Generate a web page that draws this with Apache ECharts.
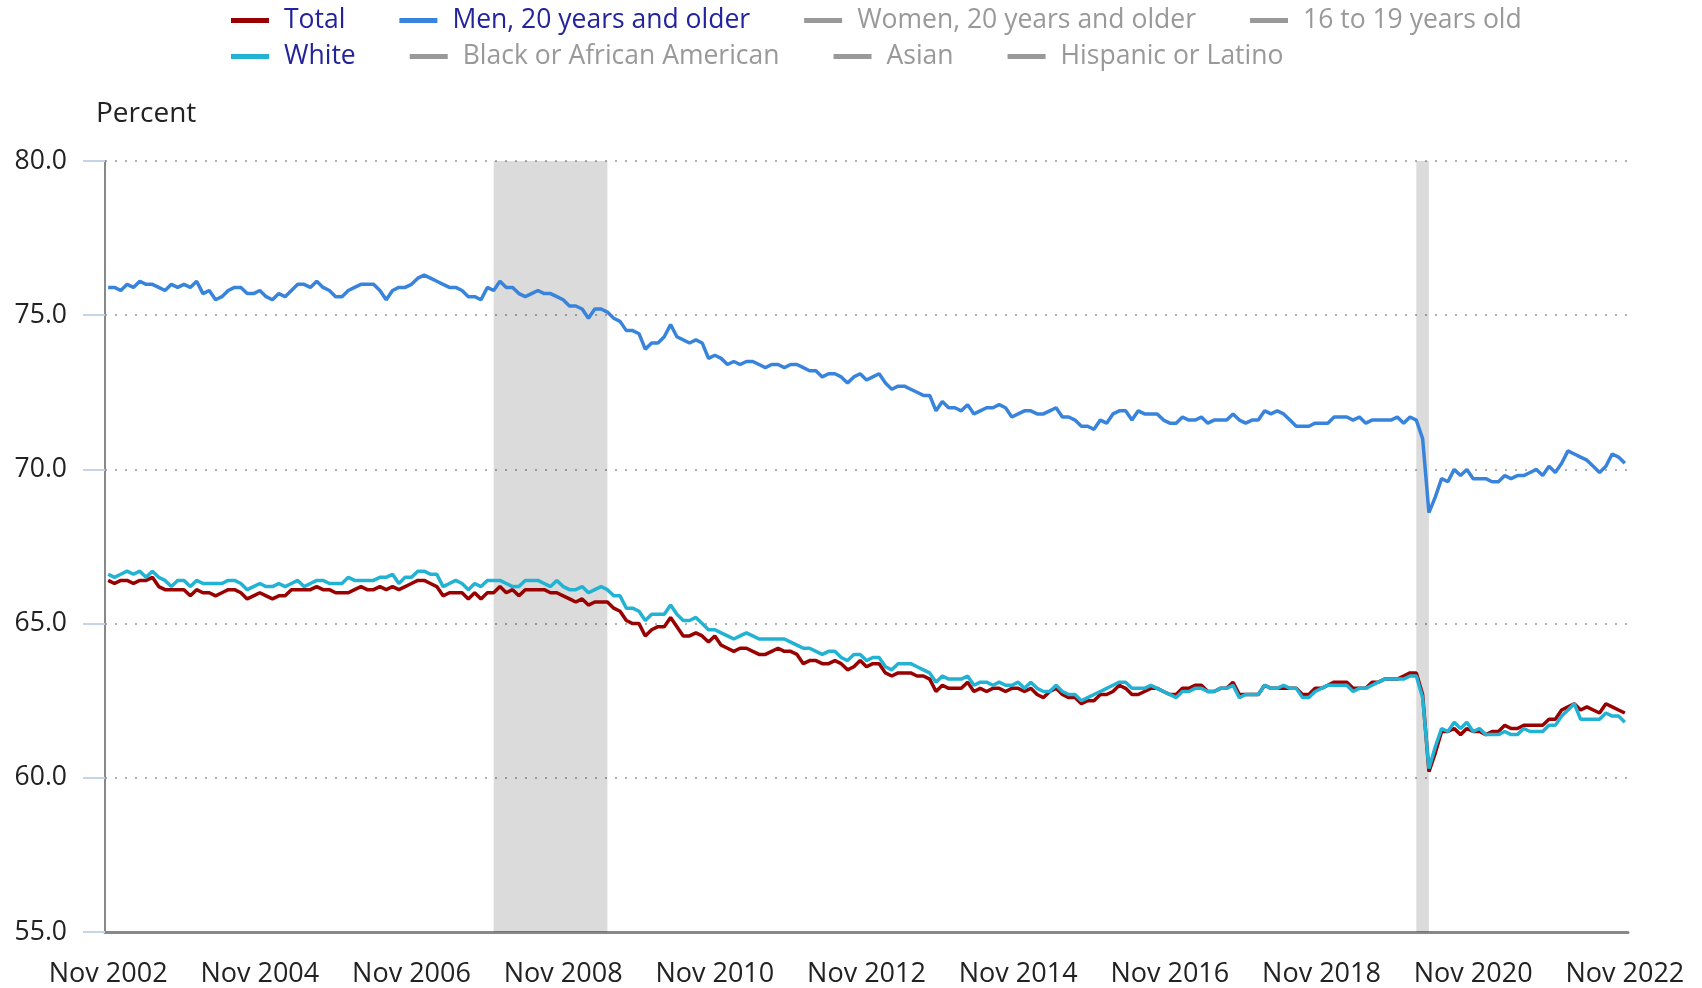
<!DOCTYPE html>
<html>
<head>
<meta charset="utf-8">
<title>Labor force participation rate</title>
<script src="https://cdn.jsdelivr.net/npm/echarts@6/dist/echarts.min.js"></script>
<style>
  html, body { margin: 0; padding: 0; background: #fff; }
  #chart { width: 1702px; height: 988px; }
</style>
</head>
<body>
<div id="chart"></div>
<script>
// monthly, Nov 2002 .. Nov 2022
const startYear = 2002;
const startMonth = 10; // Nov (0-based)
const monthNames = ["Jan", "Feb", "Mar", "Apr", "May", "Jun", "Jul", "Aug", "Sep", "Oct", "Nov", "Dec"];

const total = [
  66.4, 66.3, 66.4, 66.4, 66.3, 66.4, 66.4, 66.5, 66.2, 66.1, 66.1, 66.1,
  66.1, 65.9, 66.1, 66.0, 66.0, 65.9, 66.0, 66.1, 66.1, 66.0, 65.8, 65.9,
  66.0, 65.9, 65.8, 65.9, 65.9, 66.1, 66.1, 66.1, 66.1, 66.2, 66.1, 66.1,
  66.0, 66.0, 66.0, 66.1, 66.2, 66.1, 66.1, 66.2, 66.1, 66.2, 66.1, 66.2,
  66.3, 66.4, 66.4, 66.3, 66.2, 65.9, 66.0, 66.0, 66.0, 65.8, 66.0, 65.8,
  66.0, 66.0, 66.2, 66.0, 66.1, 65.9, 66.1, 66.1, 66.1, 66.1, 66.0, 66.0,
  65.9, 65.8, 65.7, 65.8, 65.6, 65.7, 65.7, 65.7, 65.5, 65.4, 65.1, 65.0,
  65.0, 64.6, 64.8, 64.9, 64.9, 65.2, 64.9, 64.6, 64.6, 64.7, 64.6, 64.4,
  64.6, 64.3, 64.2, 64.1, 64.2, 64.2, 64.1, 64.0, 64.0, 64.1, 64.2, 64.1,
  64.1, 64.0, 63.7, 63.8, 63.8, 63.7, 63.7, 63.8, 63.7, 63.5, 63.6, 63.8,
  63.6, 63.7, 63.7, 63.4, 63.3, 63.4, 63.4, 63.4, 63.3, 63.3, 63.2, 62.8,
  63.0, 62.9, 62.9, 62.9, 63.1, 62.8, 62.9, 62.8, 62.9, 62.9, 62.8, 62.9,
  62.9, 62.8, 62.9, 62.7, 62.6, 62.8, 62.9, 62.7, 62.6, 62.6, 62.4, 62.5,
  62.5, 62.7, 62.7, 62.8, 63.0, 62.9, 62.7, 62.7, 62.8, 62.9, 62.9, 62.8,
  62.7, 62.7, 62.9, 62.9, 63.0, 63.0, 62.8, 62.8, 62.9, 62.9, 63.1, 62.7,
  62.7, 62.7, 62.7, 63.0, 62.9, 62.9, 62.9, 62.9, 62.9, 62.7, 62.7, 62.9,
  62.9, 63.0, 63.1, 63.1, 63.1, 62.9, 62.9, 62.9, 63.1, 63.1, 63.2, 63.2,
  63.2, 63.3, 63.4, 63.4, 62.7, 60.2, 60.8, 61.5, 61.5, 61.6, 61.4, 61.6,
  61.5, 61.5, 61.4, 61.5, 61.5, 61.7, 61.6, 61.6, 61.7, 61.7, 61.7, 61.7,
  61.9, 61.9, 62.2, 62.3, 62.4, 62.2, 62.3, 62.2, 62.1, 62.4, 62.3, 62.2,
  62.1
];

const men20 = [
  75.9, 75.9, 75.8, 76.0, 75.9, 76.1, 76.0, 76.0, 75.9, 75.8, 76.0, 75.9,
  76.0, 75.9, 76.1, 75.7, 75.8, 75.5, 75.6, 75.8, 75.9, 75.9, 75.7, 75.7,
  75.8, 75.6, 75.5, 75.7, 75.6, 75.8, 76.0, 76.0, 75.9, 76.1, 75.9, 75.8,
  75.6, 75.6, 75.8, 75.9, 76.0, 76.0, 76.0, 75.8, 75.5, 75.8, 75.9, 75.9,
  76.0, 76.2, 76.3, 76.2, 76.1, 76.0, 75.9, 75.9, 75.8, 75.6, 75.6, 75.5,
  75.9, 75.8, 76.1, 75.9, 75.9, 75.7, 75.6, 75.7, 75.8, 75.7, 75.7, 75.6,
  75.5, 75.3, 75.3, 75.2, 74.9, 75.2, 75.2, 75.1, 74.9, 74.8, 74.5, 74.5,
  74.4, 73.9, 74.1, 74.1, 74.3, 74.7, 74.3, 74.2, 74.1, 74.2, 74.1, 73.6,
  73.7, 73.6, 73.4, 73.5, 73.4, 73.5, 73.5, 73.4, 73.3, 73.4, 73.4, 73.3,
  73.4, 73.4, 73.3, 73.2, 73.2, 73.0, 73.1, 73.1, 73.0, 72.8, 73.0, 73.1,
  72.9, 73.0, 73.1, 72.8, 72.6, 72.7, 72.7, 72.6, 72.5, 72.4, 72.4, 71.9,
  72.2, 72.0, 72.0, 71.9, 72.1, 71.8, 71.9, 72.0, 72.0, 72.1, 72.0, 71.7,
  71.8, 71.9, 71.9, 71.8, 71.8, 71.9, 72.0, 71.7, 71.7, 71.6, 71.4, 71.4,
  71.3, 71.6, 71.5, 71.8, 71.9, 71.9, 71.6, 71.9, 71.8, 71.8, 71.8, 71.6,
  71.5, 71.5, 71.7, 71.6, 71.6, 71.7, 71.5, 71.6, 71.6, 71.6, 71.8, 71.6,
  71.5, 71.6, 71.6, 71.9, 71.8, 71.9, 71.8, 71.6, 71.4, 71.4, 71.4, 71.5,
  71.5, 71.5, 71.7, 71.7, 71.7, 71.6, 71.7, 71.5, 71.6, 71.6, 71.6, 71.6,
  71.7, 71.5, 71.7, 71.6, 71.0, 68.6, 69.1, 69.7, 69.6, 70.0, 69.8, 70.0,
  69.7, 69.7, 69.7, 69.6, 69.6, 69.8, 69.7, 69.8, 69.8, 69.9, 70.0, 69.8,
  70.1, 69.9, 70.2, 70.6, 70.5, 70.4, 70.3, 70.1, 69.9, 70.1, 70.5, 70.4,
  70.2
];

const white = [
  66.6, 66.5, 66.6, 66.7, 66.6, 66.7, 66.5, 66.7, 66.5, 66.4, 66.2, 66.4,
  66.4, 66.2, 66.4, 66.3, 66.3, 66.3, 66.3, 66.4, 66.4, 66.3, 66.1, 66.2,
  66.3, 66.2, 66.2, 66.3, 66.2, 66.3, 66.4, 66.2, 66.3, 66.4, 66.4, 66.3,
  66.3, 66.3, 66.5, 66.4, 66.4, 66.4, 66.4, 66.5, 66.5, 66.6, 66.3, 66.5,
  66.5, 66.7, 66.7, 66.6, 66.6, 66.2, 66.3, 66.4, 66.3, 66.1, 66.3, 66.2,
  66.4, 66.4, 66.4, 66.3, 66.2, 66.2, 66.4, 66.4, 66.4, 66.3, 66.2, 66.4,
  66.2, 66.1, 66.1, 66.2, 66.0, 66.1, 66.2, 66.1, 65.9, 65.9, 65.5, 65.5,
  65.4, 65.1, 65.3, 65.3, 65.3, 65.6, 65.3, 65.1, 65.1, 65.2, 65.0, 64.8,
  64.8, 64.7, 64.6, 64.5, 64.6, 64.7, 64.6, 64.5, 64.5, 64.5, 64.5, 64.5,
  64.4, 64.3, 64.2, 64.2, 64.1, 64.0, 64.1, 64.1, 63.9, 63.8, 64.0, 64.0,
  63.8, 63.9, 63.9, 63.6, 63.5, 63.7, 63.7, 63.7, 63.6, 63.5, 63.4, 63.1,
  63.3, 63.2, 63.2, 63.2, 63.3, 63.0, 63.1, 63.1, 63.0, 63.1, 63.0, 63.0,
  63.1, 62.9, 63.1, 62.9, 62.8, 62.8, 63.0, 62.8, 62.7, 62.7, 62.5, 62.6,
  62.7, 62.8, 62.9, 63.0, 63.1, 63.1, 62.9, 62.9, 62.9, 63.0, 62.9, 62.8,
  62.7, 62.6, 62.8, 62.8, 62.9, 62.9, 62.8, 62.8, 62.9, 62.9, 63.0, 62.6,
  62.7, 62.7, 62.7, 63.0, 62.9, 62.9, 63.0, 62.9, 62.9, 62.6, 62.6, 62.8,
  62.9, 63.0, 63.0, 63.0, 63.0, 62.8, 62.9, 62.9, 63.0, 63.1, 63.2, 63.2,
  63.2, 63.2, 63.3, 63.3, 62.6, 60.3, 61.0, 61.6, 61.5, 61.8, 61.6, 61.8,
  61.5, 61.6, 61.4, 61.4, 61.4, 61.5, 61.4, 61.4, 61.6, 61.5, 61.5, 61.5,
  61.7, 61.7, 62.0, 62.2, 62.4, 61.9, 61.9, 61.9, 61.9, 62.1, 62.0, 62.0,
  61.8
];

// recessions (shaded)
const recessions = [
  ["Dec 2007", "Jun 2009"],
  ["Feb 2020", "Apr 2020"]
];

const legendRow1 = ["Total", "Men, 20 years and older", "Women, 20 years and older", "16 to 19 years old"];
const legendRow2 = ["White", "Black or African American", "Asian", "Hispanic or Latino"];
const hiddenSeries = ["Women, 20 years and older", "16 to 19 years old", "Black or African American", "Asian", "Hispanic or Latino"];

// category labels
const months = [];
for (let i = 0; i < total.length; i++) {
  const m = (startMonth + i) % 12;
  const y = startYear + Math.floor((startMonth + i) / 12);
  months.push(monthNames[m] + " " + y);
}

const fontFamily = "'Open Sans', 'Noto Sans', sans-serif";

const chart = echarts.init(document.getElementById("chart"), null, { renderer: "canvas" });

const selectedMap = {};
hiddenSeries.forEach(n => { selectedMap[n] = false; });

const legendBase = {
  orient: "horizontal",
  icon: "rect",
  padding: 0,
  itemWidth: 38,
  itemHeight: 5,
  itemGap: 54,
  inactiveColor: "#999999",
  inactiveBorderColor: "#999999",
  selected: selectedMap,
  textStyle: {
    color: "#23239b",
    fontSize: 26.5,
    fontFamily: fontFamily,
    padding: [0, 0, 0, 10]
  }
};

const seriesColors = {
  "Total": "#990000",
  "Men, 20 years and older": "#3884dc",
  "Women, 20 years and older": "#999999",
  "16 to 19 years old": "#999999",
  "White": "#22b3d4",
  "Black or African American": "#999999",
  "Asian": "#999999",
  "Hispanic or Latino": "#999999"
};

const seriesData = {
  "Total": total,
  "Men, 20 years and older": men20,
  "White": white
};

const series = legendRow1.concat(legendRow2).map(name => {
  const s = {
    name: name,
    type: "line",
    data: seriesData[name] || [],
    symbol: "none",
    showSymbol: false,
    color: seriesColors[name],
    lineStyle: { width: 3.5, color: seriesColors[name] },
    emphasis: { disabled: true },
    animation: false
  };
  if (name === "Total") {
    s.markArea = {
      silent: true,
      itemStyle: { color: "rgba(0,0,0,0.14)" },
      data: recessions.map(r => [{ xAxis: r[0] }, { xAxis: r[1] }])
    };
  }
  return s;
});

const option = {
  animation: false,
  backgroundColor: "#ffffff",
  title: {
    text: "Percent",
    left: 91,
    top: 95,
    textStyle: {
      fontFamily: fontFamily,
      fontSize: 28,
      fontWeight: "normal",
      color: "#222222"
    }
  },
  legend: [
    Object.assign({}, legendBase, { data: legendRow1, left: 231, top: 7 }),
    Object.assign({}, legendBase, { data: legendRow2, left: 231, top: 43 })
  ],
  grid: {
    left: 105,
    right: 74,
    top: 161,
    bottom: 53,
    containLabel: false
  },
  xAxis: {
    type: "category",
    data: months,
    boundaryGap: true,
    axisLine: { show: true, lineStyle: { color: "#888888", width: 3 } },
    axisTick: { show: false },
    splitLine: { show: false },
    axisLabel: {
      interval: 23,
      margin: 29,
      fontSize: 27,
      fontFamily: fontFamily,
      color: "#222222"
    }
  },
  yAxis: {
    type: "value",
    min: 55,
    max: 80,
    interval: 5,
    axisLine: { show: true, lineStyle: { color: "#888888", width: 2 } },
    axisTick: { show: true, length: 22, lineStyle: { color: "#c6d4ea", width: 2 } },
    splitLine: { show: true, lineStyle: { color: "#b0b0b0", width: 2, type: [2, 8] } },
    axisLabel: {
      margin: 38,
      fontSize: 26.5,
      fontFamily: fontFamily,
      color: "#222222",
      formatter: v => v.toFixed(1)
    }
  },
  series: series
};

chart.setOption(option);
</script>
</body>
</html>
